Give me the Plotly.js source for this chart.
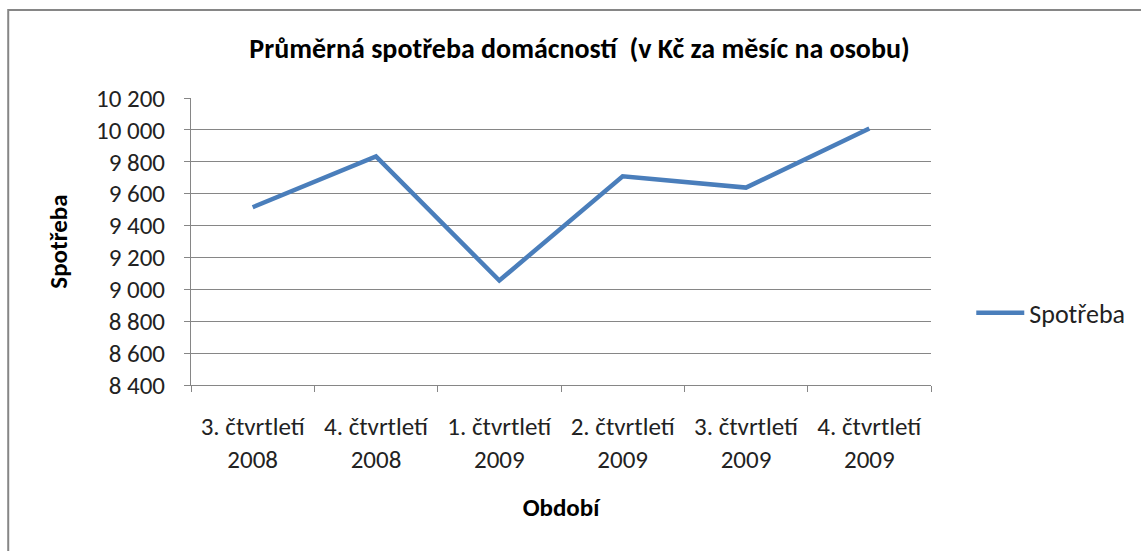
<!DOCTYPE html>
<html>
<head>
<meta charset="utf-8">
<script src="https://cdn.plot.ly/plotly-3.0.1.min.js"></script>
<style>html,body{margin:0;padding:0;background:#fff;}#chart{width:1141px;height:551px;}</style>
</head>
<body>
<div id="chart"></div>
<script>
const categories = ["3. čtvrtletí<br>2008", "4. čtvrtletí<br>2008", "1. čtvrtletí<br>2009", "2. čtvrtletí<br>2009", "3. čtvrtletí<br>2009", "4. čtvrtletí<br>2009"];
const spotreba = [9515, 9833, 9055, 9709, 9638, 10009];
const yTickVals = [8400, 8600, 8800, 9000, 9200, 9400, 9600, 9800, 10000, 10200];
const yTickText = ["8 400", "8 600", "8 800", "9 000", "9 200", "9 400", "9 600", "9 800", "10 000", "10 200"];

const FONT = "Carlito, Lato, 'Liberation Sans', sans-serif";
const GRID = "#868686";

const trace = {
  x: categories,
  y: spotreba,
  type: "scatter",
  mode: "lines",
  name: "Spotřeba",
  line: {color: "#4A7EBB", width: 4.5}
};

const layout = {
  width: 1141, height: 551,
  margin: {l: 191, r: 209, t: 98, b: 166, pad: 0},
  paper_bgcolor: "#fff", plot_bgcolor: "#fff",
  font: {family: FONT, color: "#000", size: 25},
  title: {
    text: "<b>Průměrná spotřeba domácností  (v Kč za měsíc na osobu)</b>",
    font: {family: FONT, size: 28, color: "#000"},
    xref: "paper", x: 0.525, xanchor: "center",
    yref: "container", y: 0.913, yanchor: "middle"
  },
  xaxis: {
    type: "category",
    range: [-0.5, 5.5],
    showgrid: false,
    showline: true, linecolor: GRID, linewidth: 1,
    ticks: "outside", tickson: "boundaries", ticklen: 6, tickcolor: GRID, tickwidth: 1,
    ticklabelstandoff: 19,
    tickfont: {family: FONT, size: 25, color: "#222"},
    title: {text: "<b>Období</b>", font: {family: FONT, size: 25, color: "#000"}, standoff: 24},
    fixedrange: true, zeroline: false
  },
  yaxis: {
    range: [8400, 10200],
    tickvals: yTickVals, ticktext: yTickText,
    showgrid: true, gridcolor: GRID, gridwidth: 1,
    showline: true, linecolor: GRID, linewidth: 1,
    ticks: "outside", ticklen: 6, tickcolor: GRID, tickwidth: 1,
    ticklabelstandoff: 14,
    tickfont: {family: FONT, size: 25, color: "#222"},
    title: {text: "<b>Spotřeba</b>", font: {family: FONT, size: 25, color: "#000"}, standoff: 21},
    zeroline: false, fixedrange: true
  },
  showlegend: true,
  legend: {
    x: 1.053, y: 0.251, xanchor: "left", yanchor: "middle",
    font: {family: FONT, size: 26, color: "#222"},
    bgcolor: "rgba(0,0,0,0)", borderwidth: 0,
    itemwidth: 48
  },
  shapes: [{
    type: "rect", xref: "paper", yref: "paper",
    x0: -0.247, x1: 1.32, y0: -0.75, y1: 1.3066,
    line: {color: "#868686", width: 2}, fillcolor: "rgba(0,0,0,0)", layer: "below"
  }]
};

Plotly.newPlot("chart", [trace], layout, {displayModeBar: false, staticPlot: true});
</script>
</body>
</html>
